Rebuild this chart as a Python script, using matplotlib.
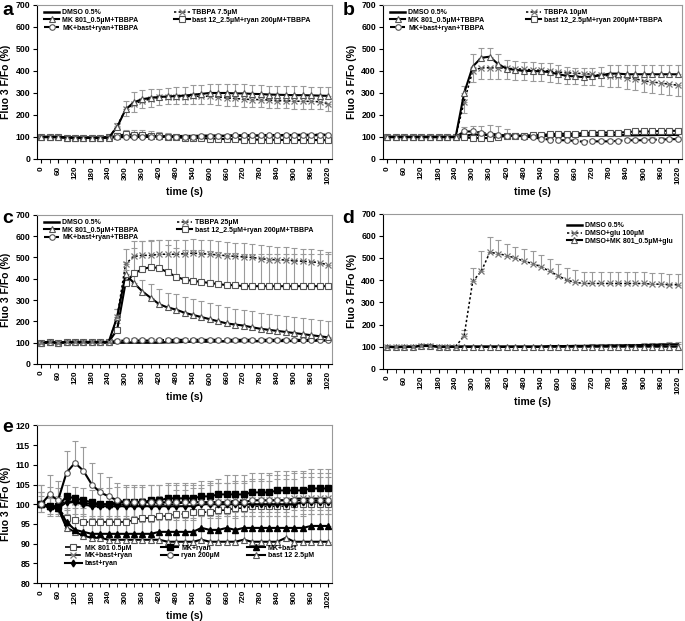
import matplotlib
matplotlib.use("Agg")
import matplotlib.pyplot as plt
from matplotlib.ticker import MultipleLocator

plt.rcParams['font.family'] = ['Liberation Sans', 'DejaVu Sans']
plt.rcParams['font.weight'] = 'bold'

# time points (s)
t = [0, 30, 60, 90, 120, 150, 180, 210, 240, 270, 300, 330, 360, 390, 420, 450, 480, 510,
     540, 570, 600, 630, 660, 690, 720, 750, 780, 810, 840, 870, 900, 930, 960, 990, 1020]

# ---- panel a (TBBPA 7.5 uM)
a_dmso = [100, 100, 100, 98, 97, 97, 97, 97, 98, 100, 100, 100, 102, 102, 102, 103, 103, 104,
          104, 105, 105, 105, 105, 106, 106, 106, 107, 107, 107, 108, 108, 108, 108, 109, 109]
a_tbbpa = [100, 100, 100, 97, 96, 96, 96, 96, 97, 150, 225, 250, 265, 272, 280, 283, 283, 283,
           285, 285, 285, 282, 278, 275, 272, 270, 270, 268, 265, 265, 263, 262, 262, 260, 252]
a_mk = [100, 100, 100, 97, 96, 96, 96, 96, 97, 145, 225, 258, 272, 278, 282, 284, 286, 288,
        292, 296, 300, 300, 300, 298, 298, 296, 295, 293, 292, 291, 290, 290, 289, 288, 287]
a_bryan = [100, 100, 100, 97, 95, 96, 96, 97, 98, 105, 112, 110, 110, 106, 103, 102, 98, 96,
           96, 95, 93, 92, 90, 90, 88, 88, 88, 87, 87, 86, 86, 86, 86, 86, 85]
a_mbr = [100, 100, 100, 97, 97, 96, 96, 97, 98, 100, 100, 100, 100, 100, 100, 100, 100, 100,
         102, 105, 105, 106, 106, 107, 107, 108, 108, 108, 109, 109, 110, 110, 110, 110, 110]
a_tbbpa_err = [5, 5, 5, 5, 5, 5, 5, 5, 5, 15, 30, 35, 35, 35, 35, 35, 35, 35,
               35, 35, 35, 35, 35, 35, 35, 35, 35, 35, 35, 35, 35, 35, 35, 35, 35]
a_mk_err = [5, 5, 5, 5, 5, 5, 5, 5, 5, 20, 40, 45, 42, 40, 38, 38, 40, 40,
            42, 42, 42, 42, 42, 42, 42, 42, 40, 40, 40, 40, 40, 40, 40, 40, 40]
a_bryan_err = [5, 5, 5, 5, 5, 5, 5, 5, 5, 15, 20, 22, 22, 22, 18, 15, 12, 10,
               10, 10, 8, 8, 8, 8, 8, 8, 8, 8, 8, 8, 8, 8, 8, 8, 8]
a_mbr_err = [3, 3, 3, 3, 3, 3, 3, 3, 3, 5, 5, 5, 5, 5, 5, 5, 5, 5,
             5, 5, 5, 5, 5, 5, 5, 5, 5, 5, 5, 5, 5, 5, 5, 5, 5]

# ---- panel b (TBBPA 10 uM)
b_dmso = [100, 100, 100, 100, 100, 100, 100, 100, 100, 105, 110, 110, 110, 108, 106, 105, 105, 105,
          105, 105, 106, 106, 106, 107, 107, 107, 108, 108, 108, 108, 109, 109, 110, 110, 110]
b_tbbpa = [100, 100, 100, 100, 100, 100, 100, 100, 100, 260, 400, 415, 415, 415, 412, 410, 408, 405,
           403, 400, 395, 392, 390, 388, 385, 380, 378, 375, 370, 365, 355, 350, 345, 340, 335]
b_mk = [100, 100, 100, 100, 100, 100, 100, 100, 100, 300, 420, 460, 465, 430, 410, 405, 400, 400,
        398, 395, 385, 378, 375, 372, 375, 380, 388, 388, 385, 385, 385, 385, 385, 385, 385]
b_bryan = [100, 100, 100, 100, 100, 100, 100, 100, 100, 98, 95, 95, 95, 100, 105, 105, 105, 108,
           110, 112, 115, 115, 115, 118, 120, 120, 120, 120, 122, 125, 125, 125, 128, 128, 128]
b_mbr = [100, 100, 100, 100, 100, 100, 100, 100, 100, 125, 125, 120, 115, 110, 105, 105, 102, 98,
         92, 88, 85, 85, 82, 78, 80, 80, 80, 82, 85, 85, 85, 88, 88, 90, 90]
b_tbbpa_err = [5, 5, 5, 5, 5, 5, 5, 5, 5, 50, 50, 50, 50, 50, 50, 50, 50, 50,
               50, 50, 50, 50, 50, 50, 50, 50, 50, 50, 50, 50, 50, 50, 50, 50, 50]
b_mk_err = [5, 5, 5, 5, 5, 5, 5, 5, 5, 30, 55, 45, 40, 45, 40, 40, 40, 40,
            40, 40, 40, 40, 40, 40, 40, 40, 40, 40, 40, 40, 40, 40, 40, 40, 40]
b_bryan_err = [5, 5, 5, 5, 5, 5, 5, 5, 5, 5, 5, 5, 5, 5, 5, 5, 5, 5,
               5, 5, 5, 5, 5, 5, 5, 5, 5, 5, 5, 5, 5, 5, 5, 5, 5]
b_mbr_err = [5, 5, 5, 5, 5, 5, 5, 5, 5, 20, 25, 30, 40, 40, 30, 15, 10, 10,
             10, 10, 10, 10, 10, 10, 10, 10, 10, 10, 10, 10, 10, 10, 10, 10, 10]

# ---- panel c (TBBPA 25 uM)
c_dmso = [100, 100, 100, 100, 100, 100, 100, 100, 100, 100, 100, 100, 100, 100, 100, 102, 102, 104,
          105, 105, 105, 106, 106, 106, 107, 107, 107, 108, 108, 108, 108, 109, 109, 110, 110]
c_tbbpa = [100, 103, 100, 103, 103, 103, 103, 103, 103, 220, 470, 505, 510, 510, 515, 515, 515, 518,
           520, 518, 515, 512, 508, 505, 503, 500, 495, 490, 490, 488, 485, 482, 480, 475, 465]
c_mk = [100, 103, 100, 103, 103, 103, 103, 103, 103, 220, 420, 380, 340, 310, 280, 265, 255, 240,
        230, 220, 210, 200, 190, 185, 180, 172, 165, 160, 155, 150, 145, 140, 135, 130, 125]
c_bryan = [100, 103, 100, 103, 103, 103, 103, 103, 103, 160, 380, 425, 445, 455, 450, 430, 410, 395,
           390, 385, 380, 375, 370, 370, 365, 365, 365, 365, 365, 365, 365, 365, 365, 365, 365]
c_mbr = [100, 103, 100, 103, 103, 103, 103, 103, 103, 108, 110, 110, 110, 110, 112, 112, 113, 113,
         113, 113, 113, 113, 113, 113, 113, 113, 113, 113, 113, 113, 113, 113, 113, 113, 113]
c_tbbpa_err = [5, 5, 5, 5, 5, 5, 5, 5, 5, 40, 70, 70, 65, 65, 65, 65, 65, 65,
               65, 65, 65, 65, 65, 65, 65, 65, 65, 65, 60, 60, 60, 60, 60, 60, 60]
c_mk_err = [5, 5, 5, 5, 5, 5, 5, 5, 5, 40, 60, 55, 55, 65, 70, 70, 75, 75,
            75, 75, 75, 75, 75, 75, 75, 75, 75, 75, 75, 75, 75, 75, 75, 75, 75]
c_bryan_err = [5, 5, 5, 5, 5, 5, 5, 5, 5, 30, 60, 120, 130, 125, 130, 130, 135, 140,
               145, 150, 150, 150, 150, 150, 150, 150, 150, 150, 150, 150, 150, 150, 150, 150, 150]
c_mbr_err = [5, 5, 5, 5, 5, 5, 5, 5, 5, 10, 10, 10, 10, 10, 10, 10, 10, 10,
             10, 10, 10, 10, 10, 10, 10, 10, 10, 10, 10, 10, 10, 10, 10, 10, 10]

# ---- panel d (glutamate)
d_dmso = [100, 98, 100, 100, 104, 104, 100, 100, 100, 100, 100, 100, 100, 100, 100, 100, 100, 100,
          100, 102, 102, 102, 103, 103, 104, 104, 105, 105, 106, 106, 107, 108, 109, 110, 110]
d_glu = [100, 98, 100, 100, 105, 105, 100, 100, 100, 150, 395, 440, 525, 520, 510, 500, 485, 475,
         460, 440, 420, 400, 390, 385, 385, 385, 385, 385, 385, 385, 385, 382, 382, 380, 380]
d_mkglu = [100, 98, 100, 100, 105, 105, 100, 100, 100, 100, 100, 100, 100, 100, 100, 100, 100, 100,
           100, 100, 100, 100, 100, 100, 100, 100, 100, 100, 100, 100, 100, 100, 100, 100, 100]
d_glu_err = [5, 5, 5, 5, 5, 5, 5, 5, 5, 25, 60, 90, 70, 60, 55, 50, 55, 55,
             55, 55, 55, 55, 55, 50, 50, 50, 50, 50, 50, 50, 50, 50, 50, 50, 50]
d_dmso_err = [3, 3, 3, 3, 3, 3, 3, 3, 3, 3, 3, 3, 3, 3, 3, 3, 3, 3,
              3, 5, 5, 5, 5, 5, 6, 6, 7, 7, 8, 8, 8, 9, 9, 10, 10]

# ---- panel e (controls, y 80-120)
e_mk = [100, 99.5, 99, 96.5, 96, 95.5, 95.5, 95.5, 95.5, 95.5, 95.5, 96, 96.5, 96.5, 97, 97, 97.5, 97.5,
        98, 98, 98, 98.5, 98.5, 99, 99, 99.5, 99.5, 99.5, 99.5, 99.5, 100, 100, 100, 100, 100]
e_mkryan = [100, 99.5, 99.5, 102, 101.5, 101, 100.5, 100, 100, 100.5, 100.5, 100.5, 100.5, 101, 101, 101.5,
            101.5, 101.5, 101.5, 102, 102, 102.5, 102.5, 102.5, 102.5, 103, 103, 103, 103.5, 103.5, 103.5,
            103.5, 104, 104, 104]
e_mkbast = [100, 99.5, 99, 95.5, 93.5, 93, 92.5, 92.5, 92.5, 92.5, 92.5, 92.5, 92.5, 92.5, 93, 93, 93, 93,
            93, 94, 93.5, 93.5, 94, 93.5, 94, 94, 94, 94, 94, 94, 94, 94, 94.5, 94.5, 94.5]
e_mkbr = [100, 99.5, 99.5, 101, 100.5, 100.5, 100, 100, 100, 100, 100, 100, 100, 100, 100, 100, 100, 100.5,
          100.5, 100.5, 100.5, 100.5, 100.5, 101, 101, 101, 101, 101, 101, 101, 101.5, 101.5, 101.5, 101.5, 101.5]
e_ryan = [100, 102.5, 101, 108, 110.5, 108.5, 105, 103, 102, 101, 100.5, 100.5, 100.5, 100.5, 100.5, 100.5,
          100.5, 100.5, 100.5, 100.5, 100.5, 100.5, 100.5, 100.5, 100.5, 101, 101, 101, 101, 101, 101, 101,
          101, 101, 101]
e_bast = [100, 99.5, 99, 94, 93, 92, 91.5, 91.5, 91, 91, 91, 91, 91, 91, 91, 90.5, 90.5, 90.5, 90.5, 91,
          90.5, 90.5, 90.5, 90.5, 91, 90.5, 90.5, 90.5, 90.5, 91.5, 90.5, 90.5, 90.5, 90.5, 90.5]
e_bryan = [100, 99, 99, 100.5, 100.5, 100, 99.5, 99.5, 99.5, 99.5, 99.5, 99.5, 99.5, 99.5, 99.5, 99.5,
           99.5, 99.5, 99.5, 100, 100, 100, 100, 100, 100, 100, 100, 100, 100, 100, 100, 100.5, 100.5,
           100.5, 100.5]
e_mk_err = [5, 5, 5, 4, 4, 4, 4, 4, 4, 4, 4, 4, 5, 5, 5, 5, 6, 6,
            6, 6, 7, 7, 7, 7, 7, 7, 7, 8, 8, 8, 8, 8, 8, 8, 8]
e_mkryan_err = [3, 2, 2, 3, 3, 3, 3, 4, 4, 4, 4, 4, 4, 4, 4, 4, 4, 4,
                4, 4, 4, 4, 5, 5, 5, 5, 5, 5, 5, 5, 5, 5, 5, 5, 5]
e_mkbast_err = [2, 2, 2, 3, 3, 3, 3, 3, 3, 3, 3, 3, 3, 3, 3, 3, 3, 3,
                3, 3, 3, 3, 3, 3, 3, 3, 3, 3, 3, 3, 3, 3, 3, 3, 3]
e_mkbr_err = [2, 2, 2, 4, 4, 3, 3, 3, 3, 3, 3, 3, 3, 3, 3, 3, 3, 3,
              3, 3, 3, 3, 3, 3, 3, 3, 3, 3, 3, 3, 3, 3, 3, 3, 3]
e_ryan_err = [5, 5, 5, 5.5, 5.5, 6, 5.5, 5, 5, 4.5, 4.5, 4.5, 4.5, 4.5, 4.5, 4.5, 4.5, 4.5,
              4.5, 4.5, 5, 5, 5, 5, 5, 5, 5, 5, 5.5, 5.5, 5.5, 6, 6, 6, 6]
e_bast_err = [3, 3, 3, 5, 6, 7, 8, 8, 8, 9, 9, 9, 9, 9, 9, 9, 9, 9,
              9, 9, 9, 9, 9, 9, 9, 9, 9, 9, 9, 9, 9, 9, 9, 9, 9]
e_bryan_err = [2, 2, 2, 3, 3, 3, 3, 3, 3, 3, 3, 3, 3, 3, 3, 3, 3, 3,
               3, 3, 3, 3, 3, 3, 3, 3, 3, 3, 3, 3, 3, 3, 3, 3, 3]

x_ticks = [0, 60, 120, 180, 240, 300, 360, 420, 480, 540, 600, 660, 720, 780, 840, 900, 960, 1020]

# line/marker looks
DMSO = dict(color='black', lw=1.8, ls='-', marker=None)
TBB = dict(color='black', lw=1.1, ls=(0, (1.5, 1.5)), marker='x', ms=4.5, mec='#777', mew=0.9)
MK = dict(color='black', lw=1.5, ls='-', marker='^', ms=4.5, mfc='white', mec='#555', mew=0.8)
BR = dict(color='black', lw=1.5, ls='-', marker='s', ms=5, mfc='white', mec='#555', mew=0.8)
MBR = dict(color='black', lw=1.5, ls=(0, (4, 1.5)), marker='o', ms=4, mfc='white', mec='#555', mew=0.8)
ERR = '#9a9a9a'


def draw(ax, y, err, up, style, label):
    if err is not None:
        zeros = [0] * len(err)
        yerr = [zeros, err] if up else [err, zeros]
        ax.errorbar(t, y, yerr=yerr, fmt='none', ecolor=ERR, elinewidth=0.8,
                    capsize=2.2, capthick=0.8, zorder=1)
    return ax.plot(t, y, label=label, zorder=3, **style)[0]


def style_axes(ax, ymax, ystep):
    ax.set_xlim(-15, 1035)
    ax.set_ylim(ymax - ystep * (8 if ystep == 5 else 7), ymax)
    ax.set_xticks(x_ticks)
    ax.set_xticklabels([str(v) for v in x_ticks], rotation=90, fontsize=5.8)
    ax.xaxis.set_minor_locator(MultipleLocator(30))
    ax.yaxis.set_major_locator(MultipleLocator(ystep))
    ax.tick_params(axis='y', labelsize=6.3, direction='out', length=3, pad=2)
    ax.tick_params(axis='x', which='both', direction='out', length=3, pad=2)
    for s in ['top', 'right']:
        ax.spines[s].set_color('#999999')
    for s in ['left', 'bottom']:
        ax.spines[s].set_color('black')
    ax.set_xlabel('time (s)', fontsize=7.5, fontweight='bold', labelpad=2)
    ax.set_ylabel('Fluo 3 F/Fo (%)', fontsize=7.5, fontweight='bold', labelpad=3)


def legend(ax, hs, **kw):
    opts = dict(ncol=2, frameon=False, fontsize=5, handlelength=2.2, handletextpad=0.4,
                labelspacing=0.1, borderaxespad=0.2, loc='upper left', columnspacing=6.0)
    opts.update(kw)
    ax.legend(hs, [h.get_label() for h in hs], **opts)


fig = plt.figure(figsize=(6.85, 6.21), dpi=100)
ax_a = fig.add_axes([0.054, 0.744, 0.431, 0.248])
ax_b = fig.add_axes([0.559, 0.744, 0.437, 0.248])
ax_c = fig.add_axes([0.054, 0.414, 0.431, 0.240])
ax_d = fig.add_axes([0.559, 0.406, 0.437, 0.250])
ax_e = fig.add_axes([0.054, 0.061, 0.431, 0.254])

# a
h1 = draw(ax_a, a_dmso, None, True, DMSO, 'DMSO 0.5%')
h4 = draw(ax_a, a_bryan, a_bryan_err, True, BR, 'bast 12_2.5\u00b5M+ryan 200\u00b5M+TBBPA')
h5 = draw(ax_a, a_mbr, a_mbr_err, True, MBR, 'MK+bast+ryan+TBBPA')
h2 = draw(ax_a, a_tbbpa, a_tbbpa_err, False, TBB, 'TBBPA 7.5\u00b5M')
h3 = draw(ax_a, a_mk, a_mk_err, True, MK, 'MK 801_0.5\u00b5M+TBBPA')
style_axes(ax_a, 700, 100)
legend(ax_a, [h1, h3, h5, h2, h4], bbox_to_anchor=(0.01, 1.0), columnspacing=5.2)

# b
h1 = draw(ax_b, b_dmso, None, True, DMSO, 'DMSO 0.5%')
h4 = draw(ax_b, b_bryan, b_bryan_err, True, BR, 'bast 12_2.5\u00b5M+ryan 200\u00b5M+TBBPA')
h5 = draw(ax_b, b_mbr, b_mbr_err, True, MBR, 'MK+bast+ryan+TBBPA')
h2 = draw(ax_b, b_tbbpa, b_tbbpa_err, False, TBB, 'TBBPA 10\u00b5M')
h3 = draw(ax_b, b_mk, b_mk_err, True, MK, 'MK 801_0.5\u00b5M+TBBPA')
style_axes(ax_b, 700, 100)
legend(ax_b, [h1, h3, h5, h2, h4], bbox_to_anchor=(0.01, 1.0))

# c
h1 = draw(ax_c, c_dmso, None, True, DMSO, 'DMSO 0.5%')
h5 = draw(ax_c, c_mbr, c_mbr_err, True, MBR, 'MK+bast+ryan+TBBPA')
h4 = draw(ax_c, c_bryan, c_bryan_err, True, BR, 'bast 12_2.5\u00b5M+ryan 200\u00b5M+TBBPA')
h3 = draw(ax_c, c_mk, c_mk_err, True, MK, 'MK 801_0.5\u00b5M+TBBPA')
h2 = draw(ax_c, c_tbbpa, c_tbbpa_err, True, TBB, 'TBBPA 25\u00b5M')
style_axes(ax_c, 700, 100)
legend(ax_c, [h1, h3, h5, h2, h4], bbox_to_anchor=(0.01, 1.0), columnspacing=5.6)

# d
h1 = draw(ax_d, d_dmso, d_dmso_err, True, DMSO, 'DMSO 0.5%')
h3 = draw(ax_d, d_mkglu, None, True, MK, 'DMSO+MK 801_0.5\u00b5M+glu')
h2 = draw(ax_d, d_glu, d_glu_err, True, TBB, 'DMSO+glu 100\u00b5M')
style_axes(ax_d, 700, 100)
legend(ax_d, [h1, h2, h3], ncol=1, bbox_to_anchor=(0.6, 0.97))

# e
E_MK = dict(color='black', lw=1.2, ls=(0, (4, 1.5)), marker='s', ms=5, mfc='white', mec='#555', mew=0.8)
E_MKR = dict(color='black', lw=1.5, ls='-', marker='s', ms=4.5, mfc='black', mec='black')
E_MKB = dict(color='black', lw=1.5, ls='-', marker='^', ms=4.5, mfc='black', mec='black')
E_MKBR = dict(color='black', lw=1.2, ls=(0, (4, 1.5)), marker='x', ms=4.5, mec='#777', mew=0.9)
E_RY = dict(color='black', lw=1.5, ls='-', marker='o', ms=4, mfc='white', mec='#555', mew=0.8)
E_BA = dict(color='black', lw=1.5, ls='-', marker='^', ms=4.5, mfc='white', mec='#555', mew=0.8)
E_BR = dict(color='black', lw=1.5, ls='-', marker='d', ms=3.5, mfc='black', mec='black')

g1 = draw(ax_e, e_mk, e_mk_err, True, E_MK, 'MK 801 0.5\u00b5M')
g6 = draw(ax_e, e_bast, e_bast_err, True, E_BA, 'bast 12 2.5\u00b5M')
g3 = draw(ax_e, e_mkbast, e_mkbast_err, True, E_MKB, 'MK+bast')
g4 = draw(ax_e, e_mkbr, e_mkbr_err, False, E_MKBR, 'MK+bast+ryan')
g7 = draw(ax_e, e_bryan, e_bryan_err, False, E_BR, 'bast+ryan')
g2 = draw(ax_e, e_mkryan, e_mkryan_err, True, E_MKR, 'MK+ryan')
g5 = draw(ax_e, e_ryan, e_ryan_err, True, E_RY, 'ryan 200\u00b5M')
style_axes(ax_e, 120, 5)
legend(ax_e, [g1, g4, g7, g2, g5, g3, g6], ncol=3, columnspacing=4.0, handlelength=2.5,
       bbox_to_anchor=(0.08, 0.27))

for letter, x, y in [('a', 0.004, 0.997), ('b', 0.500, 0.997), ('c', 0.004, 0.662),
                     ('d', 0.500, 0.662), ('e', 0.004, 0.325)]:
    fig.text(x, y, letter, fontsize=14, fontweight='bold', va='top', ha='left')

fig.savefig('out.png', dpi=100)
